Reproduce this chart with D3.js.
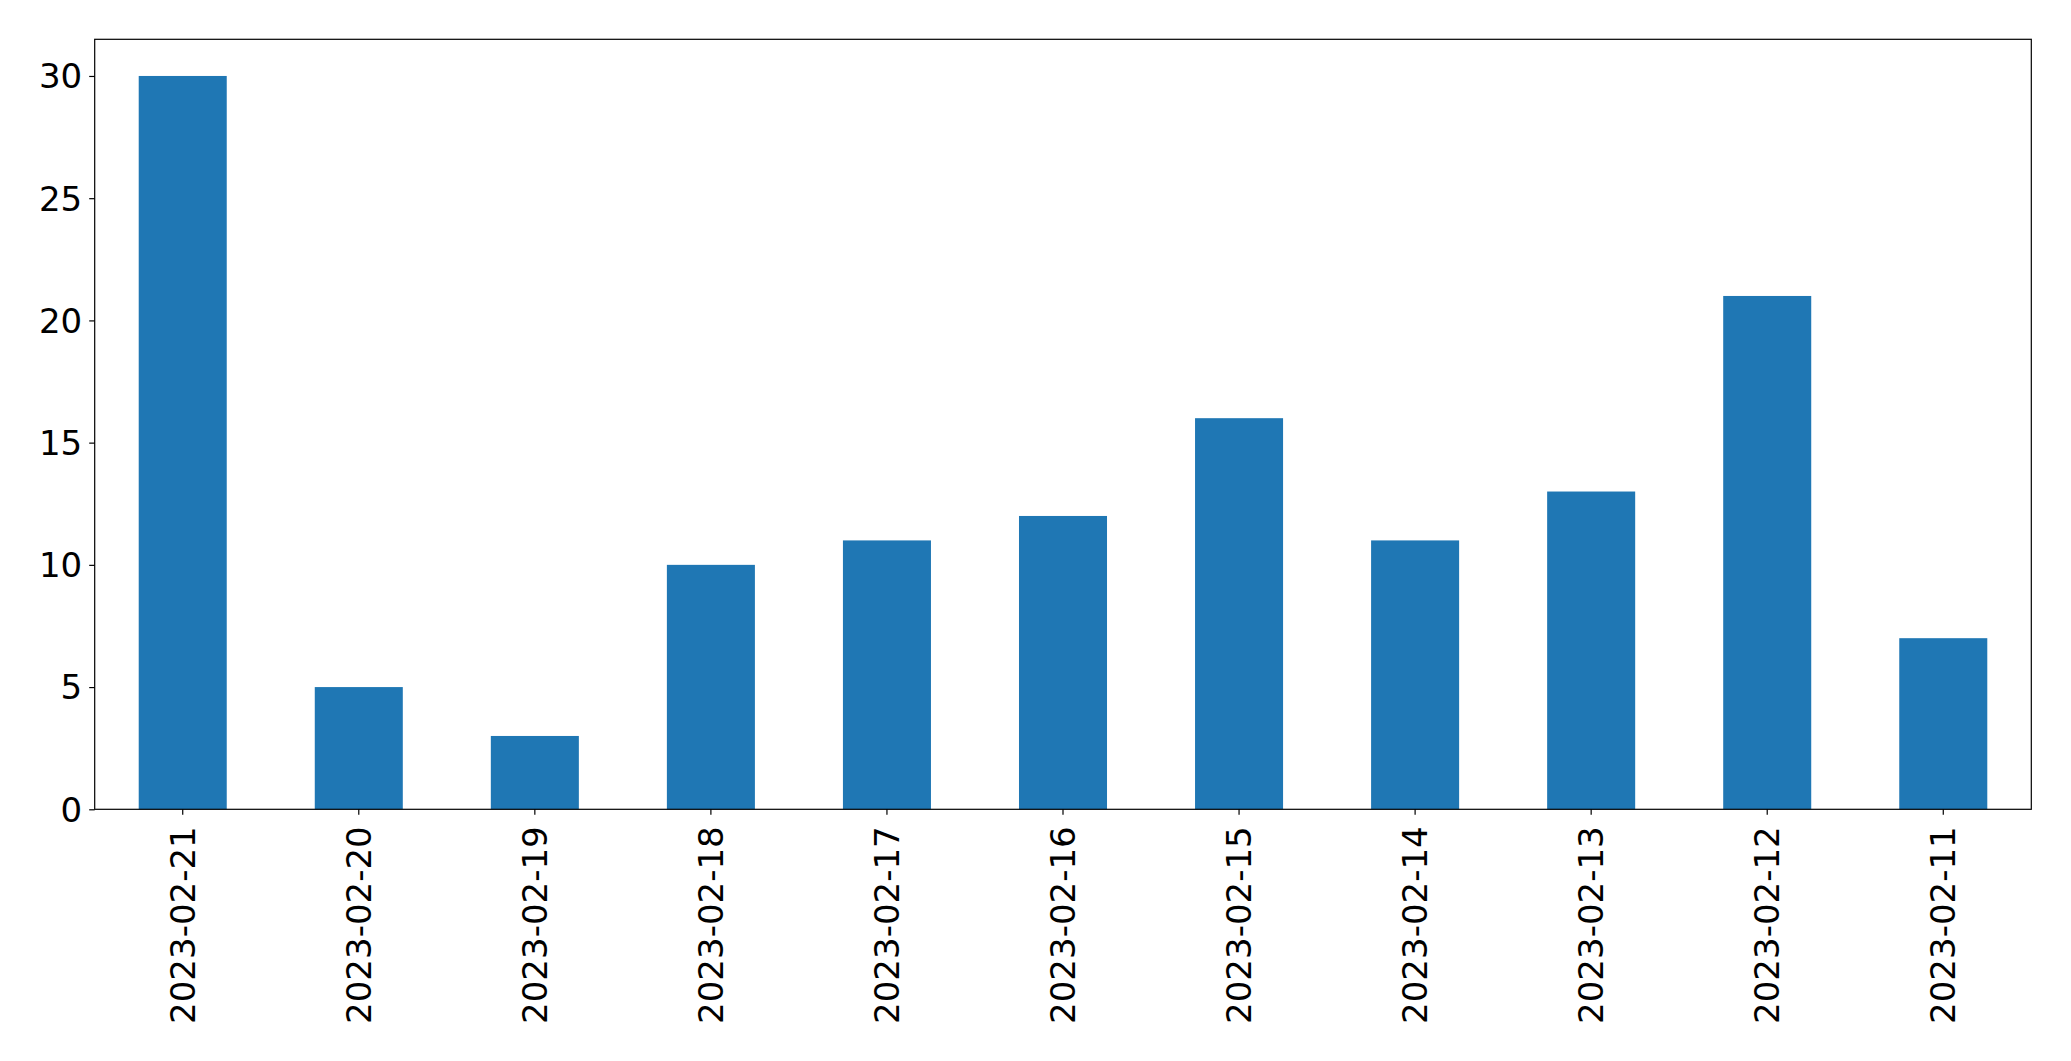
<!DOCTYPE html>
<html><head><meta charset="utf-8">
<script src="https://cdn.jsdelivr.net/npm/d3@7"></script>
<style>body{margin:0;background:#fff}svg{display:block}</style>
</head><body>
<script>
const categories = ["2023-02-21","2023-02-20","2023-02-19","2023-02-18","2023-02-17","2023-02-16","2023-02-15","2023-02-14","2023-02-13","2023-02-12","2023-02-11"];
const values = [30,5,3,10,11,12,16,11,13,21,7];
const yTicks = [0,5,10,15,20,25,30];

const W = 2071, H = 1061;
const m = {left: 94.7, right: 2071-2031.3, top: 39.3, bottom: 1061-809.3};
const svg = d3.select("body").append("svg").attr("width", W).attr("height", H);
const x = d3.scaleBand().domain(categories).range([m.left, W-m.right]).paddingInner(0.5).paddingOuter(0.25);
const y = d3.scaleLinear().domain([0, 31.5]).range([H-m.bottom, m.top]);
const font = "DejaVu Sans, sans-serif";

svg.append("g").selectAll("rect").data(values).join("rect")
  .attr("x", (d,i)=>x(categories[i]))
  .attr("width", x.bandwidth())
  .attr("y", d=>y(d))
  .attr("height", d=>y(0)-y(d))
  .attr("fill", "#1f77b4");

const ya = svg.append("g").attr("transform", `translate(${m.left},0)`)
  .call(d3.axisLeft(y).tickValues(yTicks).tickSize(5.5).tickPadding(7).tickFormat(d3.format("d")));
ya.select(".domain").remove();
ya.selectAll("text").attr("font-family", font).attr("font-size", 34).attr("fill","#000").attr("dy","0.35em");
ya.selectAll("line").attr("stroke","#000").attr("stroke-width",1.2);

const xa = svg.append("g").attr("transform", `translate(0,${H-m.bottom})`)
  .call(d3.axisBottom(x).tickSize(5.5).tickPadding(0));
xa.select(".domain").remove();
xa.selectAll("line").attr("stroke","#000").attr("stroke-width",1.2);
xa.selectAll("text").attr("font-family", font).attr("font-size", 34).attr("fill","#000")
  .attr("transform","translate(0,17) rotate(-90)").attr("text-anchor","end").attr("dy","0.35em").attr("y",0).attr("x",0);

svg.append("rect").attr("x", m.left).attr("y", m.top)
  .attr("width", W-m.right-m.left).attr("height", H-m.bottom-m.top)
  .attr("fill","none").attr("stroke","#000").attr("stroke-width",1.2);
</script>
</body></html>
